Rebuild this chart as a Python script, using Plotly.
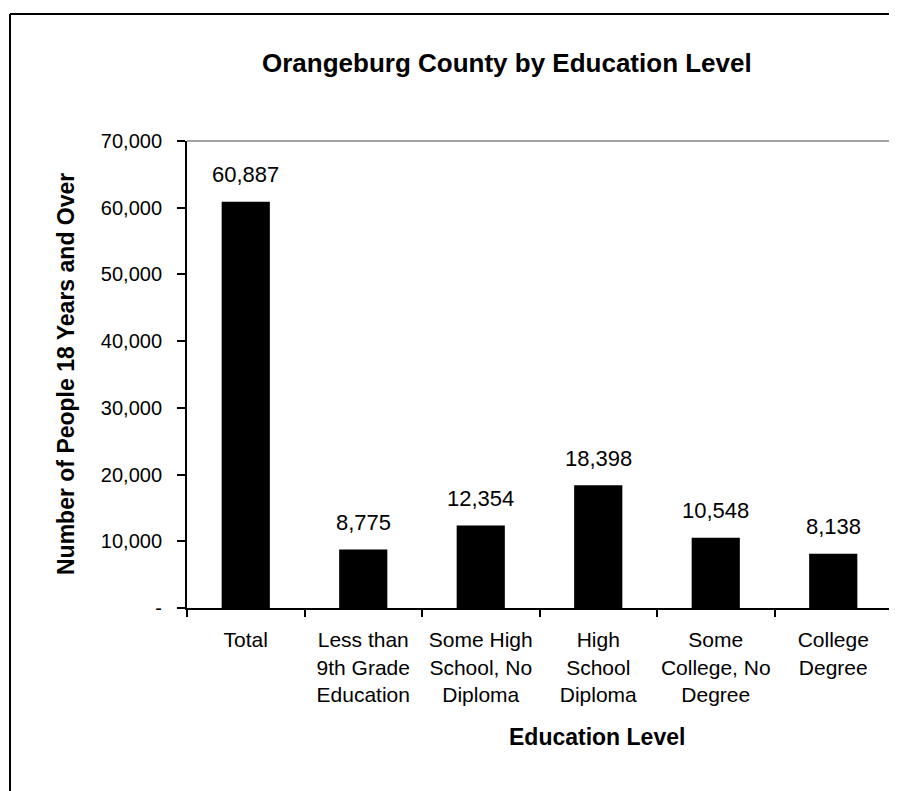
import plotly.graph_objects as go

categories = ["Total", "Less than<br>9th Grade<br>Education", "Some High<br>School, No<br>Diploma",
              "High<br>School<br>Diploma", "Some<br>College, No<br>Degree", "College<br>Degree"]
people = [60887, 8775, 12354, 18398, 10548, 8138]
y_ticks = [0, 10000, 20000, 30000, 40000, 50000, 60000, 70000]
y_tick_labels = ["-", "10,000", "20,000", "30,000", "40,000", "50,000", "60,000", "70,000"]

# page body has an 8px margin, so the figure sits 8px in from the window corner
OFF = 8
W, H = 897 - OFF, 791 - OFF
L, R, T, B = 187 - OFF, 5, 141 - OFF, 183
pw, ph = W - L - R, H - T - B

font = "Liberation Sans, Arial, sans-serif"


def px_x(p):
    return (p - OFF - L) / pw


def px_y(p):
    return 1 - (p - OFF - T) / ph


fig = go.Figure()
fig.add_trace(go.Bar(x=categories, y=people, marker=dict(color="black", line=dict(width=0)),
                     showlegend=False, hoverinfo="x+y"))

for c, v in zip(categories, people):
    fig.add_annotation(x=c, y=v, text=f"{v:,}", showarrow=False, yshift=27,
                       font=dict(family=font, size=22, color="black"))

# outer chart frame (only left and top edges are in view) and plot-area top line
fig.add_shape(type="line", xref="paper", yref="paper", x0=px_x(10), x1=px_x(900),
              y0=px_y(14), y1=px_y(14), line=dict(color="black", width=2))
fig.add_shape(type="line", xref="paper", yref="paper", x0=px_x(10), x1=px_x(10),
              y0=px_y(14), y1=px_y(800), line=dict(color="black", width=2))
fig.add_shape(type="line", xref="paper", yref="paper", x0=0, x1=px_x(900),
              y0=1, y1=1, line=dict(color="#444444", width=1))

labels = [
    ("<b>Orangeburg County by Education Level</b>", 507, 63, 26, 0),
    ("<b>Education Level</b>", 597, 737, 23, 0),
    ("<b>Number of People 18 Years and Over</b>", 66, 374, 23, -90),
]
for text, x, y, size, angle in labels:
    fig.add_annotation(xref="paper", yref="paper", x=px_x(x), y=px_y(y), text=text,
                       xanchor="center", yanchor="middle", textangle=angle, showarrow=False,
                       font=dict(family=font, size=size, color="black"))

fig.update_xaxes(showline=True, linecolor="black", linewidth=2, ticks="outside", tickson="boundaries",
                 ticklen=7, tickwidth=2, tickcolor="black", tickangle=0, ticklabelstandoff=12,
                 tickfont=dict(family=font, size=21, color="black"), showgrid=False)
fig.update_yaxes(range=[0, 70000], tickvals=y_ticks, ticktext=y_tick_labels, showline=True,
                 linecolor="black", linewidth=2, ticks="outside", ticklen=8, tickwidth=2, tickcolor="black",
                 ticklabelstandoff=11, tickfont=dict(family=font, size=20, color="black"),
                 showgrid=False, zeroline=False)
fig.update_layout(width=W, height=H, margin=dict(l=L, r=R, t=T, b=B), bargap=0.59,
                  plot_bgcolor="white", paper_bgcolor="white")

fig.write_html("out.html")
